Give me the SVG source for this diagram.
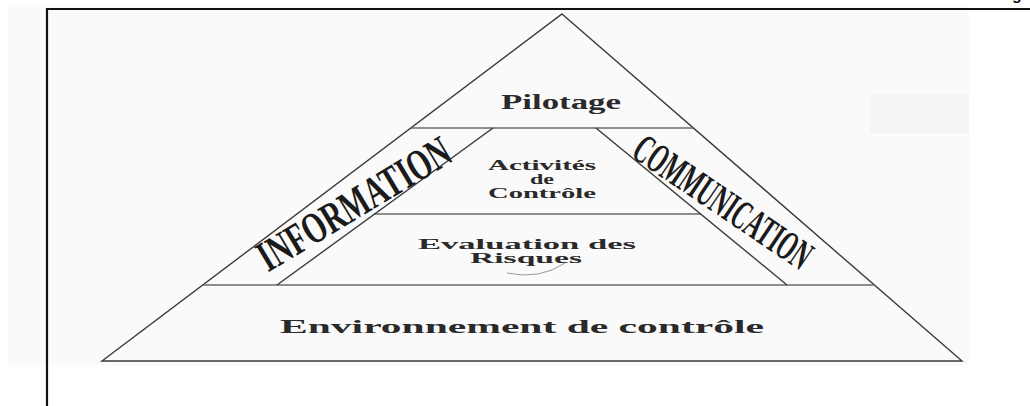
<svg xmlns="http://www.w3.org/2000/svg" width="1030" height="406" viewBox="0 0 1030 406">
  <style>
    .edge { fill: none; stroke: #3a3a3a; stroke-width: 1.4; }
    .hline { fill: none; stroke: #6a6a6a; stroke-width: 1.6; }
    .lbl { font-family: "Liberation Serif", "Times New Roman", serif; font-weight: bold; fill: #2a2a2a; text-anchor: middle; }
    .band { font-family: "Liberation Serif", "Times New Roman", serif; font-weight: bold; fill: #1a1a1a; text-anchor: middle; dominant-baseline: central; }
  </style>
  <rect x="0" y="0" width="1030" height="406" fill="#ffffff"/>
  <rect x="8" y="7" width="961" height="358" fill="#fafafa"/>
  <rect x="870" y="95" width="99" height="38" fill="#f4f4f4"/>
  <text x="1012" y="0" font-family="Liberation Sans, Arial, sans-serif" font-weight="bold" font-size="16" fill="#111">g</text>
  <g id="frame">
    <line x1="47" y1="9" x2="1030" y2="9" stroke="#111" stroke-width="2.2"/>
    <line x1="47" y1="8" x2="47" y2="406" stroke="#111" stroke-width="2.2"/>
  </g>
  <g id="connectors">
    <polygon class="edge" points="562,14 962,361 102,361"/>
    <line class="hline" x1="411" y1="128" x2="693" y2="128"/>
    <line class="hline" x1="203" y1="285" x2="874" y2="285"/>
    <line class="hline" x1="374" y1="214" x2="701" y2="214"/>
    <line class="edge" x1="493" y1="128" x2="277" y2="285"/>
    <line class="edge" x1="596" y1="128" x2="787" y2="285"/>
    <path d="M507,273 Q540,280 565,263" fill="none" stroke="#9a9a9a" stroke-width="1"/>
  </g>
  <g id="pilotage">
    <text class="lbl" x="561" y="109" font-size="20" textLength="120" lengthAdjust="spacingAndGlyphs">Pilotage</text>
  </g>
  <g id="activites">
    <text class="lbl" x="542" y="170" font-size="14" textLength="108" lengthAdjust="spacingAndGlyphs">Activités</text>
    <text class="lbl" x="542" y="184" font-size="14" textLength="24" lengthAdjust="spacingAndGlyphs">de</text>
    <text class="lbl" x="542" y="198" font-size="14" textLength="108" lengthAdjust="spacingAndGlyphs">Contrôle</text>
  </g>
  <g id="evaluation">
    <text class="lbl" x="527" y="249" font-size="15" textLength="218" lengthAdjust="spacingAndGlyphs">Evaluation des</text>
    <text class="lbl" x="526" y="263" font-size="15" textLength="112" lengthAdjust="spacingAndGlyphs">Risques</text>
  </g>
  <g id="environnement">
    <text class="lbl" x="522" y="333" font-size="18" textLength="484" lengthAdjust="spacingAndGlyphs">Environnement de contrôle</text>
  </g>
  <g id="information">
    <text class="band" transform="translate(354,204) rotate(-31)" x="0" y="0" font-size="44" textLength="218" lengthAdjust="spacingAndGlyphs">INFORMATION</text>
  </g>
  <g id="communication">
    <text class="band" transform="translate(723,202) rotate(34)" x="0" y="0" font-size="42" textLength="206" lengthAdjust="spacingAndGlyphs">COMMUNICATION</text>
  </g>
</svg>
